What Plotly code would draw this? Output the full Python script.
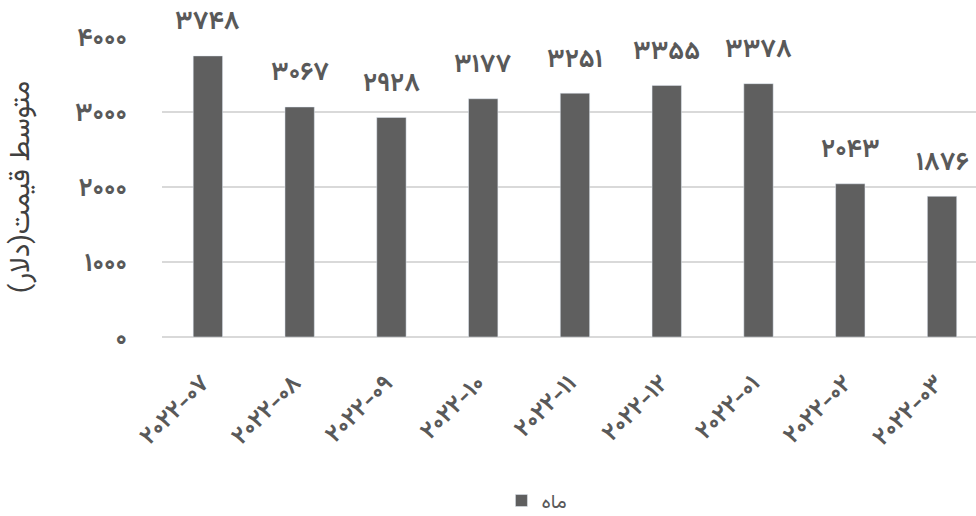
import plotly.graph_objects as go

categories = ["۲۰۲۲-۰۷", "۲۰۲۲-۰۸", "۲۰۲۲-۰۹", "۲۰۲۲-۱۰", "۲۰۲۲-۱۱",
              "۲۰۲۲-۱۲", "۲۰۲۲-۰۱", "۲۰۲۲-۰۲", "۲۰۲۲-۰۳"]
values = [3748, 3067, 2928, 3177, 3251, 3355, 3378, 2043, 1876]
value_labels = ["۳۷۴۸", "۳۰۶۷", "۲۹۲۸", "۳۱۷۷", "۳۲۵۱", "۳۳۵۵", "۳۳۷۸", "۲۰۴۳", "۱۸۷۶"]
y_tickvals = [0, 1000, 2000, 3000, 4000]
y_ticktext = ["۰", "۱۰۰۰", "۲۰۰۰", "۳۰۰۰", "۴۰۰۰"]
series_name = "ماه"
y_title = "متوسط قیمت(دلار)"

FONT = "Vazirmatn, Noto Sans Arabic, Noto Naskh Arabic, DejaVu Sans"
TXT = "#595959"
BAR = "#5f5f5f"

fig = go.Figure()
fig.add_trace(go.Bar(
    x=categories, y=values, name=series_name,
    marker=dict(color=BAR), width=0.32, showlegend=True,
))

for c, v, t in zip(categories, values, value_labels):
    fig.add_annotation(x=c, y=v, text="<b>%s</b>" % t, showarrow=False,
                       yanchor="middle", yshift=33,
                       font=dict(family=FONT, size=26, color=TXT))

fig.update_layout(
    width=976, height=516,
    margin=dict(l=162, r=0, t=37, b=179),
    plot_bgcolor="white", paper_bgcolor="white",
    font=dict(family=FONT, color=TXT),
    xaxis=dict(
        type="category", range=[-0.5, 8.37], automargin=False,
        tickangle=-45, showgrid=False, showline=False, ticks="",
        tickfont=dict(family=FONT, size=24, color=TXT, weight="bold"),
        ticklabelstandoff=26, ticklabelshift=-6,
    ),
    yaxis=dict(
        range=[0, 4000], tickvals=y_tickvals, ticktext=y_ticktext, automargin=False,
        showgrid=True, gridcolor="#d9d9d9", gridwidth=1.5,
        zeroline=True, zerolinecolor="#d9d9d9", zerolinewidth=1.5,
        showline=False, ticks="",
        tickfont=dict(family=FONT, size=26, color=TXT, weight="bold"),
        ticklabelstandoff=34,
        title=dict(text=y_title, font=dict(family=FONT, size=28, color="#404040"),
                   standoff=38),
    ),
    legend=dict(orientation="h", x=0.417, xanchor="left",
                yref="container", y=0.03, yanchor="middle",
                font=dict(family=FONT, size=20, color=TXT)),
)

fig.write_html("out.html", config={"displayModeBar": False},
               post_script="document.body.style.margin='0';")
